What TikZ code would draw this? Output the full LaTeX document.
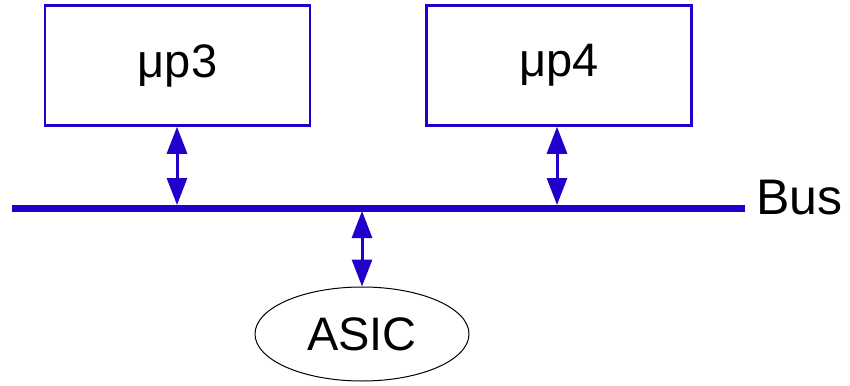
\documentclass[tikz,border=0pt]{standalone}
\usepackage{fontspec}
\setmainfont{Liberation Sans}
\usetikzlibrary{arrows.meta,shapes.geometric}
\definecolor{busblue}{HTML}{2200CC}
\begin{document}
\begin{tikzpicture}[x=1pt,y=-1pt,
  procbox/.style={draw=busblue,line width=2.5pt,minimum width=265pt,minimum height=120pt,inner sep=0pt,font=\fontsize{47}{50}\selectfont},
  link/.style={draw=busblue,line width=3pt,{Triangle[width=20pt,length=27pt]}-{Triangle[width=20pt,length=27pt]}},
  lbl/.style={font=\fontsize{50}{54}\selectfont,inner sep=0pt}]
\useasboundingbox (0,0) rectangle (850,385);
\node[procbox] (p3) at (177.5,65.5) {μp3};
\node[procbox] (p4) at (559,65.5) {μp4};
\coordinate (bl) at (12,208);
\coordinate (br) at (745,208);
\draw[busblue,line width=7pt] (bl) -- (br);
\node[lbl,anchor=west] (bus) at (756,198) {Bus};
\node[draw=black,line width=1pt,ellipse,minimum width=214pt,minimum height=94pt,inner sep=0pt,font=\fontsize{47}{50}\selectfont] (asic) at (362,334) {ASIC};
\coordinate (b3) at (177,205);
\coordinate (b4) at (557,205);
\coordinate (ba) at (362,211);
\draw[link] (p3.south -| b3) -- (b3);
\draw[link] (p4.south -| b4) -- (b4);
\draw[link] (ba) -- (asic.north -| ba);
\end{tikzpicture}
\end{document}
